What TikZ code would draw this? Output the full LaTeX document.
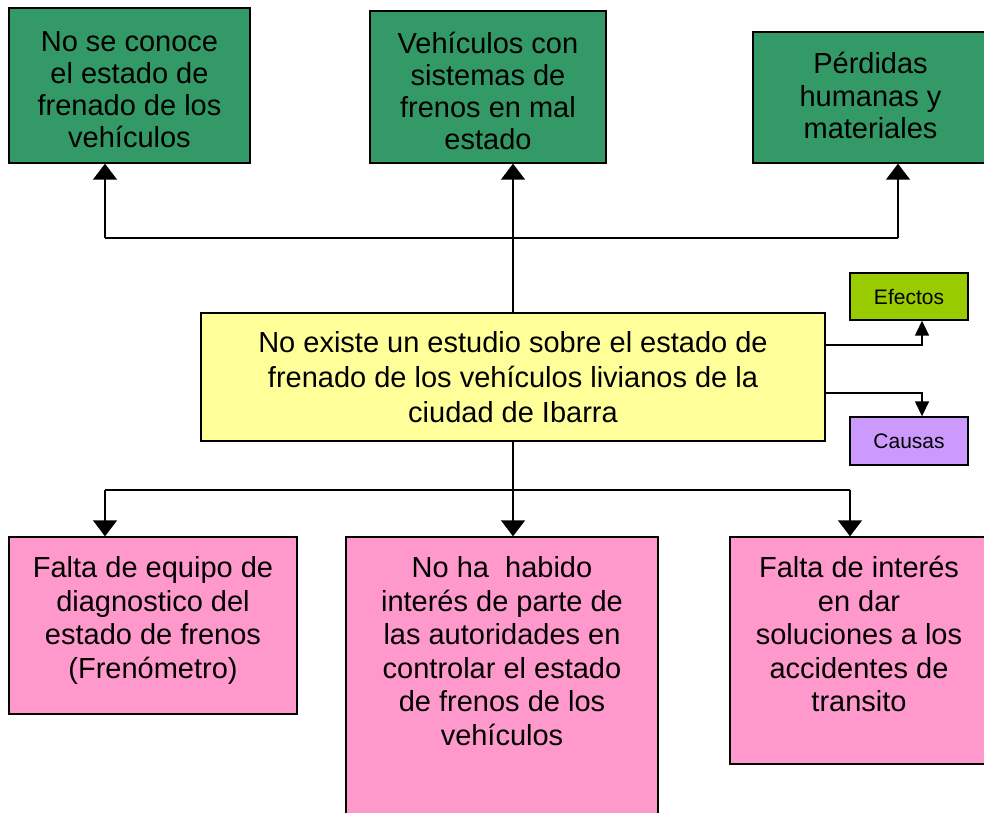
\documentclass[tikz,border=0pt]{standalone}
\usepackage{fontspec}
\setmainfont{Liberation Sans}
\usetikzlibrary{arrows.meta,positioning,calc}
\definecolor{afEfecto}{HTML}{339966}
\definecolor{afProblema}{HTML}{FFFF99}
\definecolor{afCausa}{HTML}{FF99CC}
\definecolor{afLima}{HTML}{99CC00}
\definecolor{afLila}{HTML}{CC99FF}

\begin{document}
\begin{tikzpicture}[x=1pt, y=-1pt,
  caja/.style={draw=black, line width=1.4pt, inner sep=0pt},
  efe/.style={caja, fill=afEfecto},
  cau/.style={caja, fill=afCausa},
  txt/.style={anchor=north, align=center, inner sep=0pt, font=\fontsize{29}{33.5}\selectfont},
  arr/.style={-{Triangle[width=24pt, length=16pt]}, line width=1.5pt},
  sarr/.style={-{Triangle[width=14pt, length=15pt]}, line width=1.5pt},
  ley/.style={caja, minimum width=118pt, font=\fontsize{21}{24}\selectfont}]
\useasboundingbox (0,0) rectangle (984,812);
% efectos
\node[efe, minimum width=241pt, minimum height=155pt] (e1) at (129.5,85.5) {};
\node[efe, minimum width=236pt, minimum height=152pt] (e2) at (488,87) {};
\node[efe, minimum width=235pt, minimum height=131pt] (e3) at (870.5,97.5) {};
\node[txt, font=\fontsize{29}{32}\selectfont] (e1t) at ([yshift=-24pt]e1.north) {No se conoce\\el estado de\\frenado de los\\vehículos};
\node[txt, font=\fontsize{29}{32}\selectfont] (e2t) at ([yshift=-22pt]e2.north) {Vehículos con\\sistemas de\\frenos en mal\\estado};
\node[txt, font=\fontsize{29}{32.5}\selectfont] (e3t) at ([yshift=-21pt]e3.north) {Pérdidas\\humanas y\\materiales};
% problema central
\node[caja, fill=afProblema, minimum width=624pt, minimum height=128pt, align=center,
  font=\fontsize{29}{35}\selectfont] (yl) at (513,377)
  {No existe un estudio sobre el estado de\\frenado de los vehículos livianos de la\\ciudad de Ibarra};
\node[ley, fill=afLima, minimum height=47pt] (ef) at (909,296.5) {Efectos};
\node[ley, fill=afLila, minimum height=48pt] (ca) at (909,441) {Causas};
% causas
\node[cau, minimum width=288pt, minimum height=177pt] (c1) at (153,625.5) {};
\node[cau, minimum width=312pt, minimum height=279pt] (c2) at (502,676.5) {};
\node[cau, minimum width=258pt, minimum height=227pt] (c3) at (859,650.5) {};
\node[txt] (c1t) at ([yshift=-20pt]c1.north) {Falta de equipo de\\diagnostico del\\estado de frenos\\(Frenómetro)};
\node[txt] (c2t) at ([yshift=-20pt]c2.north) {No ha~ habido\\interés de parte de\\las autoridades en\\controlar el estado\\de frenos de los\\vehículos};
\node[txt] (c3t) at ([yshift=-20pt]c3.north) {Falta de interés\\en dar\\soluciones a los\\accidentes de\\transito};
% conectores
\coordinate (jl) at (105,238);
\coordinate (jr) at (898,238);
\draw[arr] (yl.north) -- (yl.north |- e2.south);
\draw[line width=1.5pt] (jl) -- (jr);
\draw[arr] (jl) -- (jl |- e1.south);
\draw[arr] (jr) -- (jr |- e3.south);
\coordinate (ke) at (922,345);
\coordinate (kc) at (922,393);
\draw[sarr] (yl.east |- ke) -- (ke) -- (ke |- ef.south);
\draw[sarr] (yl.east |- kc) -- (kc) -- (kc |- ca.north);
\coordinate (bl) at (105,490);
\coordinate (br) at (850,490);
\draw[arr] (yl.south) -- (yl.south |- c2.north);
\draw[line width=1.5pt] (bl) -- (br);
\draw[arr] (bl) -- (bl |- c1.north);
\draw[arr] (br) -- (br |- c3.north);
\end{tikzpicture}
\end{document}
